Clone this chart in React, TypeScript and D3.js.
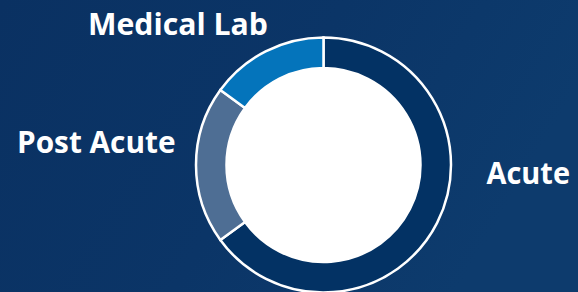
import React from "react";
import * as d3 from "d3";

const categories = ["Acute", "Post Acute", "Medical Lab"];
const values = [65, 20, 15];
const colors = ["#033264", "#4e6e94", "#0474bb"];

// label layout (anchor start x, baseline y, target width)
const labelLayout = [
  { x: 486.5, y: 184, w: 83.5 },
  { x: 17, y: 152.5, w: 158.5 },
  { x: 88, y: 35, w: 180 },
];

const W = 578;
const H = 292;
const cx = 323.5;
const cy = 165;
const innerR = 97;
const outerR = 127.5;

export default function App() {
  const pie = d3
    .pie<number>()
    .sort(null)
    .value((d) => d)
    .startAngle(0)
    .endAngle(2 * Math.PI);
  const arcs = pie(values);
  const arcGen = d3
    .arc<d3.PieArcDatum<number>>()
    .innerRadius(innerR)
    .outerRadius(outerR);

  return (
    <div style={{ position: "absolute", left: 0, top: 0 }}>
      <svg width={W} height={H} style={{ display: "block" }}>
        <defs>
          <linearGradient id="bg" x1="0" y1="0" x2="1" y2="0.3">
            <stop offset="0" stopColor="#0a3162" />
            <stop offset="0.55" stopColor="#0b3567" />
            <stop offset="1" stopColor="#0d3b6d" />
          </linearGradient>
        </defs>
        <rect x={0} y={0} width={W} height={H} fill="url(#bg)" />
        <g transform={`translate(${cx},${cy})`}>
          {arcs.map((a, i) => (
            <path
              key={categories[i]}
              d={arcGen(a) || ""}
              fill={colors[i]}
              stroke="#ffffff"
              strokeWidth={2.5}
              strokeLinejoin="miter"
            />
          ))}
          <circle r={innerR} fill="#ffffff" />
        </g>
        {categories.map((c, i) => (
          <text
            key={c}
            x={labelLayout[i].x}
            y={labelLayout[i].y}
            textLength={labelLayout[i].w}
            lengthAdjust="spacingAndGlyphs"
            fill="#ffffff"
            fontFamily="'Open Sans', 'Noto Sans', sans-serif"
            fontWeight={700}
            fontSize={30}
          >
            {c}
          </text>
        ))}
      </svg>
    </div>
  );
}
